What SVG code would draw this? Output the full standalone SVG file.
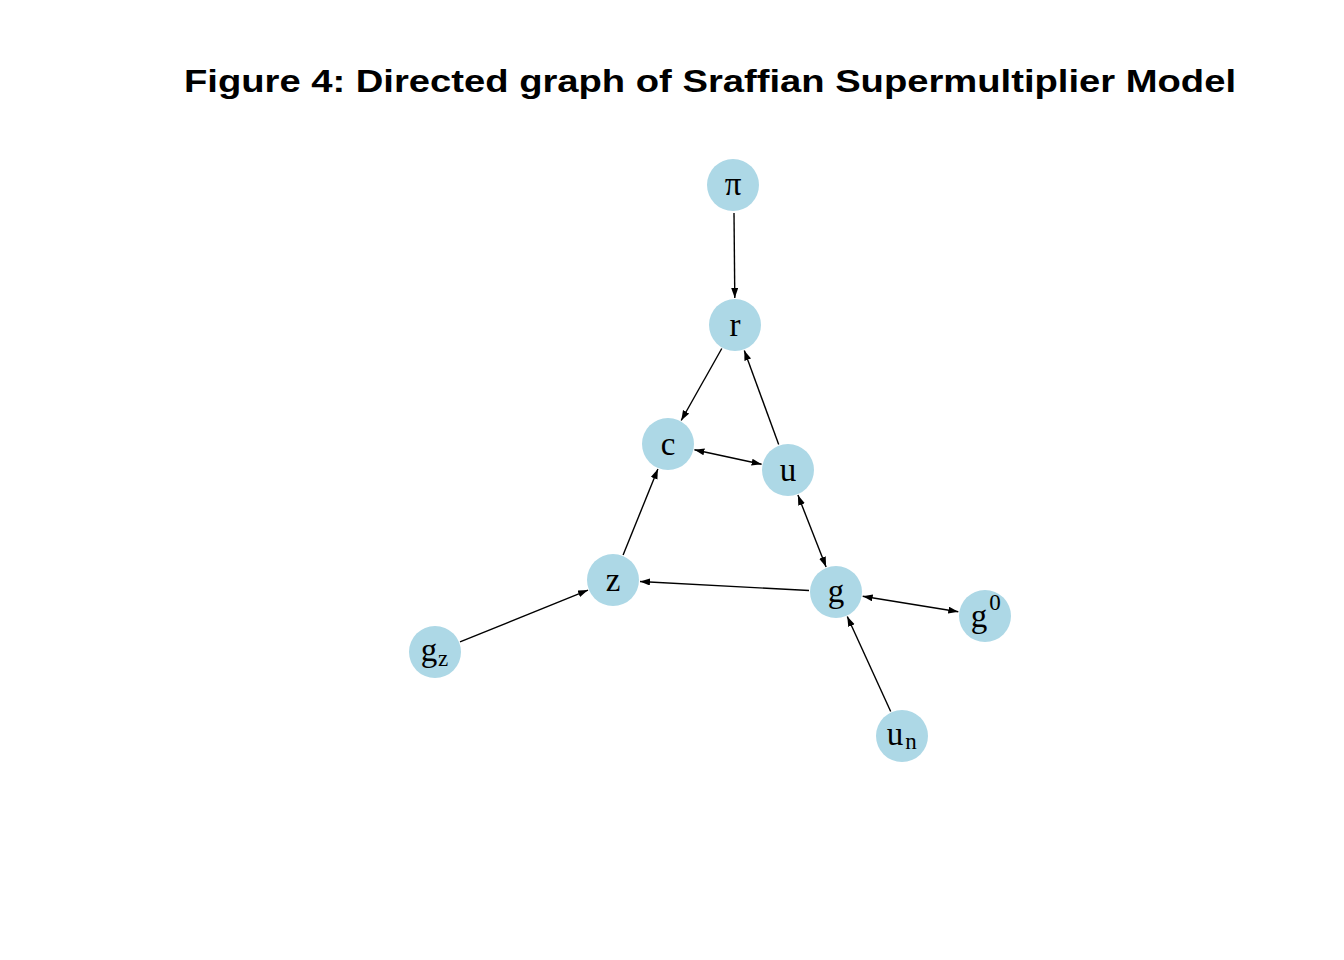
<svg xmlns="http://www.w3.org/2000/svg" width="1344" height="960" viewBox="0 0 1344 960">
<style>
.n{fill:#ADD8E6}
.l{font-family:"Liberation Serif","Times New Roman",serif;font-size:33px;fill:#000;text-anchor:middle}
.s{font-size:23px}
.e{stroke:#000;stroke-width:1.4;fill:none;marker-end:url(#a)}
.d{marker-start:url(#a)}
.t{font-family:"Liberation Sans",Arial,sans-serif;font-weight:bold;font-size:32px;fill:#000;text-anchor:middle}
</style>
<defs>
<marker id="a" markerUnits="userSpaceOnUse" markerWidth="11" markerHeight="8" refX="10" refY="3.5" orient="auto-start-reverse">
<path d="M0,0 L10,3.5 L0,7 z" fill="#000"/>
</marker>
</defs>
<rect width="1344" height="960" fill="#fff"/>
<text class="t" x="710" y="92" textLength="1052" lengthAdjust="spacingAndGlyphs">Figure 4: Directed graph of Sraffian Supermultiplier Model</text>
<g id="edges">
<line class="e" x1="734" y1="213" x2="734.8" y2="298"/>
<line class="e" x1="721.8" y1="348.5" x2="681.2" y2="420.5"/>
<line class="e" x1="778.7" y1="444.6" x2="744.3" y2="350.4"/>
<line class="e d" x1="694.4" y1="449.7" x2="761.6" y2="464.3"/>
<line class="e d" x1="797.9" y1="495.1" x2="826.1" y2="566.9"/>
<line class="e" x1="623.1" y1="555" x2="657.9" y2="469"/>
<line class="e" x1="809" y1="590.5" x2="640" y2="581.5"/>
<line class="e d" x1="862.7" y1="596.3" x2="958.3" y2="611.7"/>
<line class="e" x1="460" y1="641.9" x2="588" y2="590.1"/>
<line class="e" x1="890.7" y1="711.5" x2="847.3" y2="616.5"/>
</g>
<g id="pi"><circle class="n" cx="733" cy="185" r="26"/><text class="l" x="733" y="195">π</text></g>
<g id="r"><circle class="n" cx="735" cy="325" r="26"/><text class="l" x="735" y="336">r</text></g>
<g id="c"><circle class="n" cx="668" cy="444" r="26"/><text class="l" x="668" y="455">c</text></g>
<g id="u"><circle class="n" cx="788" cy="470" r="26"/><text class="l" x="788" y="481">u</text></g>
<g id="z"><circle class="n" cx="613" cy="580" r="26"/><text class="l" x="613" y="591">z</text></g>
<g id="g"><circle class="n" cx="836" cy="592" r="26"/><text class="l" x="836" y="602">g</text></g>
<g id="g0"><circle class="n" cx="985" cy="616" r="26"/><text class="l" x="985" y="627"><tspan x="979">g</tspan><tspan class="s" x="995" y="610">0</tspan></text></g>
<g id="gz"><circle class="n" cx="435" cy="652" r="26"/><text class="l" x="435" y="661"><tspan x="429">g</tspan><tspan class="s" x="443" y="666">z</tspan></text></g>
<g id="un"><circle class="n" cx="902" cy="736" r="26"/><text class="l" x="902" y="745"><tspan x="895">u</tspan><tspan class="s" x="911" y="749">n</tspan></text></g>
</svg>
